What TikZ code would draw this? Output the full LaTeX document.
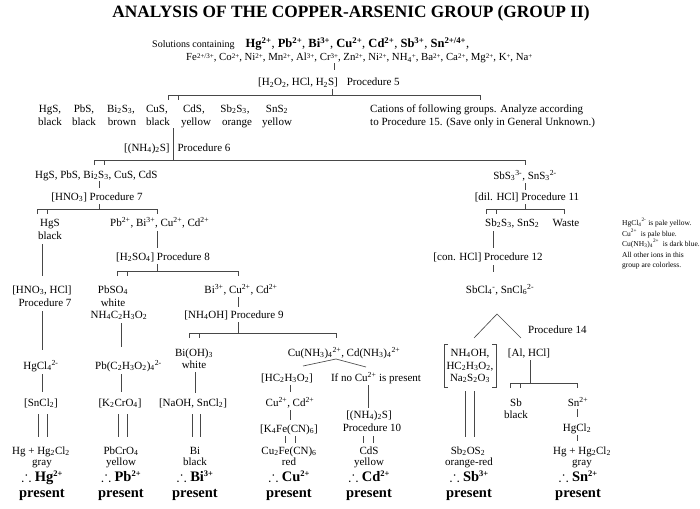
\documentclass[tikz,border=0pt]{standalone}
\usepackage{fontspec}
\usepackage{amssymb}
\setmainfont{Liberation Serif}
\newcommand\spx[1]{\textsuperscript{#1}}
\newcommand\sbx[1]{\textsubscript{#1}}
\newcommand\psup[1]{\raisebox{0.7ex}{\fontsize{8.5}{9}\selectfont #1}}
\newcommand\lsup[1]{\raisebox{0.55ex}{\fontsize{7}{8}\selectfont #1}}
\newcommand\tbar[4]{\draw[ln] (#1,#4) -- (#1,#3) -- (#2,#3) -- (#2,#4); \draw[ln] ({#1+10},#3) -- ({#1+10},#4);}
\newcommand\dbl[4]{\draw[ln] (#1,#3) -- (#1,#4); \draw[ln] (#2,#3) -- (#2,#4);}
\begin{document}
\begin{tikzpicture}[x=1pt,y=-1pt,
 ln/.style={draw=black!72,line width=0.65pt},
 t/.style={anchor=base,inner sep=0pt,font=\fontsize{11}{13}\selectfont},
 tw/.style={t,anchor=base west},
 pr/.style={anchor=base,inner sep=0pt,font=\bfseries\fontsize{14.5}{16}\selectfont},
 nt/.style={anchor=base west,inner sep=0pt,font=\fontsize{7.5}{9}\selectfont}]
\useasboundingbox (0,0) rectangle (700,508);
\fill[white] (0,0) rectangle (700,508);
% title
\node[anchor=base,inner sep=0pt,font=\bfseries\fontsize{17.3}{20}\selectfont] (title) at (351,18) {ANALYSIS OF THE COPPER-ARSENIC GROUP (GROUP II)};
\node[anchor=base west,inner sep=0pt,font=\fontsize{10}{12}\selectfont] (sol) at (152,47.5) {Solutions containing\hspace{11pt}{\fontsize{12.5}{14}\selectfont\textbf{Hg\spx{2+}}, \textbf{Pb\spx{2+}}, \textbf{Bi\spx{3+}}, \textbf{Cu\spx{2+}}, \textbf{Cd\spx{2+}}, \textbf{Sb\spx{3+}}, \textbf{Sn\spx{2+/4+}},}};
\node[anchor=base west,inner sep=0pt,font=\fontsize{10.8}{12}\selectfont] (oth) at (186,61) {Fe\lsup{2+/3+}, Co\lsup{2+}, Ni\lsup{2+}, Mn\lsup{2+}, Al\lsup{3+}, Cr\lsup{3+}, Zn\lsup{2+}, Ni\lsup{2+}, NH\sbx{4}\lsup{+}, Ba\lsup{2+}, Ca\lsup{2+}, Mg\lsup{2+}, K\lsup{+}, Na\lsup{+}};
\draw[ln] (334,63.5) -- (334,70.5);
\node[tw] (r5) at (258,86) {[H\sbx{2}O\sbx{2}, HCl, H\sbx{2}S]\hspace{9pt}Procedure 5};
\draw[ln] (332,89) -- (332,95);
\tbar{168}{480}{95}{100}
% sulfides
\node[t] (p1) at (50,112) {HgS,}; \node[t] (c1) at (50,125) {black};
\node[t] (p2) at (84,112) {PbS,}; \node[t] (c2) at (84,125) {black};
\node[t] (p3) at (121,112) {Bi\sbx{2}S\sbx{3},}; \node[t] (c3) at (122,125) {brown};
\node[t] (p4) at (157,112) {CuS,}; \node[t] (c4) at (158,125) {black};
\node[t] (p5) at (194,112) {CdS,}; \node[t] (c5) at (196,125) {yellow};
\node[t] (p6) at (235,112) {Sb\sbx{2}S\sbx{3},}; \node[t] (c6) at (237,125) {orange};
\node[t] (p7) at (277,112) {SnS\sbx{2}}; \node[t] (c7) at (277,125) {yellow};
\node[tw] (cat1) at (370,112) {Cations of following groups. Analyze according};
\node[tw] (cat2) at (370,125) {to Procedure 15. (Save only in General Unknown.)};
\draw[ln] (173,128) -- (173,160);
\node[tw] (r6) at (124,151) {[(NH\sbx{4})\sbx{2}S]\hspace{8pt}Procedure 6};
\tbar{94}{525}{160}{165}
% left branch
\node[tw] (g2) at (35,178) {HgS, PbS, Bi\sbx{2}S\sbx{3}, CuS, CdS};
\draw[ln] (99,181) -- (99,188);
\node[t] (r7) at (97,200) {[HNO\sbx{3}] Procedure 7};
\draw[ln] (99,204) -- (99,209);
\tbar{37}{157}{209}{214}
\node[t] (hgs) at (50,226) {HgS}; \node[t] (hgsb) at (50,239) {black};
\node[tw] (ions) at (110,226) {Pb\spx{2+}, Bi\spx{3+}, Cu\spx{2+}, Cd\spx{2+}};
\draw[ln] (157,231) -- (157,248);
\node[t] (r8) at (163,260) {[H\sbx{2}SO\sbx{4}] Procedure 8};
\draw[ln] (157,264) -- (157,271);
\tbar{117}{238}{271}{276}
% Hg column
\draw[ln] (42,244) -- (42,276);
\node[t] (r7b) at (42,293) {[HNO\sbx{3}, HCl]};
\node[t] (r7c) at (45,306) {Procedure 7};
\draw[ln] (42,311) -- (42,350);
\node[t] (hgcl4) at (41,369) {HgCl\sbx{4}\spx{2-}};
\draw[ln] (42,374) -- (42,392);
\node[t] (sncl2) at (41,406) {[SnCl\sbx{2}]};
\dbl{38}{47}{414}{437}
\node[t] (hg1) at (41,454) {Hg + Hg\sbx{2}Cl\sbx{2}};
\node[t] (hg2) at (42,465) {gray};
\node[pr] (hg3) at (42,481) {\(\therefore\) Hg\psup{2+}};
\node[pr] (hg4) at (42,497) {present};
% Pb column
\node[t] (pbso4) at (113,293) {PbSO\sbx{4}};
\node[t] (pbw) at (113,306) {white};
\node[t] (nhac) at (119,318) {NH\sbx{4}C\sbx{2}H\sbx{3}O\sbx{2}};
\draw[ln] (121,323) -- (121,347);
\node[tw] (pbac) at (95,369) {Pb(C\sbx{2}H\sbx{3}O\sbx{2})\sbx{4}\spx{2-}};
\draw[ln] (121,374) -- (121,392);
\node[t] (k2cr) at (120,406) {[K\sbx{2}CrO\sbx{4}]};
\dbl{118}{127}{414}{437}
\node[t] (pb1) at (121,454) {PbCrO\sbx{4}};
\node[t] (pb2) at (121,465) {yellow};
\node[pr] (pb3) at (121,481) {\(\therefore\) Pb\psup{2+}};
\node[pr] (pb4) at (121,497) {present};
% Bi / Cu / Cd
\node[t] (bcc) at (241,293) {Bi\spx{3+}, Cu\spx{2+}, Cd\spx{2+}};
\draw[ln] (238,297) -- (238,307);
\node[t] (r9) at (234,318) {[NH\sbx{4}OH] Procedure 9};
\draw[ln] (238,322) -- (238,333);
\tbar{189}{336}{333}{338}
\node[t] (bioh) at (194,356) {Bi(OH)\sbx{3}};
\node[t] (biw) at (194,368) {white};
\draw[ln] (195,372) -- (195,393);
\node[t] (naoh) at (193,406) {[NaOH, SnCl\sbx{2}]};
\dbl{192}{200}{414}{437}
\node[t] (bi1) at (195,454) {Bi};
\node[t] (bi2) at (195,465) {black};
\node[pr] (bi3) at (195,481) {\(\therefore\) Bi\psup{3+}};
\node[pr] (bi4) at (195,497) {present};
\node[t] (cucd) at (344,356) {Cu(NH\sbx{3})\sbx{4}\spx{2+}, Cd(NH\sbx{3})\sbx{4}\spx{2+}};
\draw[ln] (303,366) -- (336,359) -- (366,367);
\node[t] (hac) at (287,381) {[HC\sbx{2}H\sbx{3}O\sbx{2}]};
\node[t] (ifno) at (376,381) {If no Cu\spx{2+} is present};
\draw[ln] (290,385) -- (290,392);
\node[t] (cucd2) at (290,406) {Cu\spx{2+}, Cd\spx{2+}};
\draw[ln] (290,410) -- (290,420);
\node[t] (k4fe) at (289,432) {[K\sbx{4}Fe(CN)\sbx{6}]};
\dbl{285}{295}{436}{443}
\node[t] (cu1) at (289,454) {Cu\sbx{2}Fe(CN)\sbx{6}};
\node[t] (cu2) at (289,465) {red};
\node[pr] (cu3) at (289,481) {\(\therefore\) Cu\psup{2+}};
\node[pr] (cu4) at (289,497) {present};
\draw[ln] (368,385) -- (368,408);
\node[t] (nh4s) at (369,418) {[(NH\sbx{4})\sbx{2}S]};
\node[t] (r10) at (372,431) {Procedure 10};
\dbl{363}{373}{436}{443}
\node[t] (cd1) at (369,454) {CdS};
\node[t] (cd2) at (369,465) {yellow};
\node[pr] (cd3) at (369,481) {\(\therefore\) Cd\psup{2+}};
\node[pr] (cd4) at (369,497) {present};
% right branch
\node[t] (sbs3) at (525,179) {SbS\sbx{3}\spx{3-}, SnS\sbx{3}\spx{2-}};
\draw[ln] (525,183) -- (525,190);
\node[t] (r11) at (527,200) {[dil. HCl] Procedure 11};
\draw[ln] (525,204) -- (525,209);
\tbar{486}{564}{209}{214}
\node[tw] (sb2s3) at (485,226) {Sb\sbx{2}S\sbx{3}, SnS\sbx{2}};
\node[t] (waste) at (566,226) {Waste};
\draw[ln,line width=1pt] (493,231) -- (493,248);
\node[t] (r12) at (488,260) {[con. HCl] Procedure 12};
\draw[ln] (493,265) -- (493,272);
\node[t] (sbcl) at (500,293) {SbCl\sbx{4}\spx{-}, SnCl\sbx{6}\spx{2-}};
\draw[ln] (474,338) -- (497,314) -- (521,338);
\node[tw] (r14) at (528,333) {Procedure 14};
\node[t] (sbr1) at (470,356) {NH\sbx{4}OH,};
\node[t] (sbr2) at (470,369) {HC\sbx{2}H\sbx{3}O\sbx{2},};
\node[t] (sbr3) at (470,381) {Na\sbx{2}S\sbx{2}O\sbx{3}};
\draw[ln] (448,344) -- (444,344) -- (444,387) -- (448,387);
\draw[ln] (492,344) -- (496,344) -- (496,387) -- (492,387);
\dbl{465}{474}{391}{437}
\node[t] (sb1) at (468,454) {Sb\sbx{2}OS\sbx{2}};
\node[t] (sb2) at (469,465) {orange-red};
\node[pr] (sb3) at (469,481) {\(\therefore\) Sb\psup{3+}};
\node[pr] (sb4) at (469,497) {present};
\node[t] (alhcl) at (529,356) {[Al, HCl]};
\draw[ln] (530,360) -- (530,383);
\tbar{510}{577}{383}{388}
\node[t] (sbm) at (516,406) {Sb};
\node[t] (sbmb) at (516,418) {black};
\node[t] (sn2) at (578,406) {Sn\spx{2+}};
\draw[ln] (577,409) -- (577,417);
\node[t] (hgcl2) at (577,431) {HgCl\sbx{2}};
\draw[ln] (577,435) -- (577,441);
\node[t] (sn1) at (582,454) {Hg + Hg\sbx{2}Cl\sbx{2}};
\node[t] (sn2b) at (582,465) {gray};
\node[pr] (sn3) at (578,481) {\(\therefore\) Sn\psup{2+}};
\node[pr] (sn4) at (578,497) {present};
% note
\node[nt] (n1) at (622,225) {HgCl\sbx{4}\spx{2-} is pale yellow.};
\node[nt] (n2) at (622,236) {Cu\spx{2+}\ \ is pale blue.};
\node[nt] (n3) at (622,246) {Cu(NH\sbx{3})\sbx{4}\spx{2+}\ \ is dark blue.};
\node[nt] (n4) at (622,257) {All other ions in this};
\node[nt] (n5) at (622,267) {group are colorless.};
\end{tikzpicture}
\end{document}
